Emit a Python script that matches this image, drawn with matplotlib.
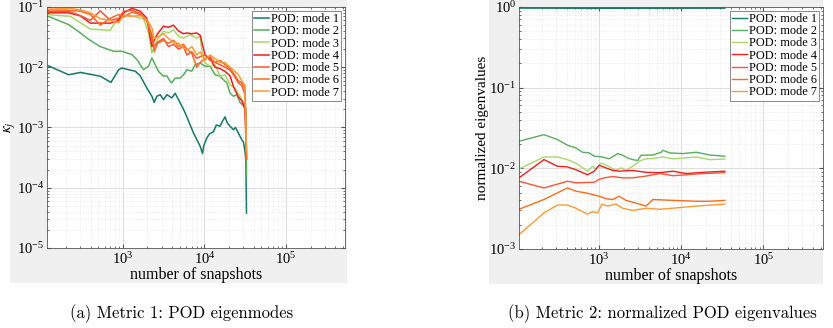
import matplotlib
matplotlib.use("Agg")
import matplotlib.pyplot as plt
from matplotlib.patches import Rectangle

plt.rcParams['font.family'] = 'Liberation Serif'
plt.rcParams['mathtext.fontset'] = 'stix'

labels = ["POD: mode %d" % i for i in range(1, 8)]
colors = ['#137a64', '#5aad5e', '#a8d86a', '#f01e1e', '#f4573a', '#f96b1e', '#fd9a35']

# Metric 1: kappa_j vs number of snapshots
m1_x = {
    1: [121, 216, 301, 527, 713, 885, 972, 1173, 1416, 1630, 1967, 2265, 2420, 2608, 2866, 3146, 3457,
        3981, 4372, 4805, 5534, 6080, 6680, 7340, 8060, 8850, 9460, 9800, 10690, 11500, 12890, 14000,
        15560, 16500, 17910, 19000, 20600, 22650, 24000, 26080, 28650, 30000, 31460, 32200, 32768],
    2: [121, 216, 301, 380, 527, 769, 972, 1289, 1484, 1790, 2062, 2265, 2489, 2734, 3146, 3457, 3797,
        3981, 4372, 5030, 5534, 6080, 6990, 7680, 8850, 10180, 11710, 13470, 15560, 17110, 18810, 20600,
        22650, 24880, 27350, 30060, 32370, 32768],
    3: [121, 226, 398, 700, 769, 885, 1019, 1351, 1790, 2062, 2265, 2420, 2660, 3146, 3620, 4165, 4805,
        5534, 6680, 8060, 8850, 9270, 10180, 11710, 13470, 15560, 17910, 20600, 23680, 27350, 31460, 32768],
}
m1_y = {
    1: [0.0106, 0.0075, 0.0082, 0.0071, 0.0056, 0.0091, 0.0097, 0.0091, 0.0086, 0.0072, 0.0045, 0.0033,
        0.0026, 0.0033, 0.0035, 0.0029, 0.0035, 0.0031, 0.0037, 0.0029, 0.0020, 0.0015, 0.0011, 0.00081,
        0.00063, 0.00049, 0.00037, 0.0005, 0.00067, 0.00078, 0.00085, 0.00110, 0.00105, 0.00125, 0.0015,
        0.00120, 0.00105, 0.00092, 0.00100, 0.00081, 0.00063, 0.00058, 0.00040, 0.00028, 3.8e-5],
    2: [0.070, 0.051, 0.037, 0.029, 0.022, 0.0184, 0.0184, 0.0162, 0.0134, 0.0091, 0.0104, 0.0143, 0.011,
        0.0085, 0.0071, 0.0072, 0.0058, 0.0055, 0.0066, 0.0066, 0.0075, 0.0091, 0.0086, 0.011, 0.0118,
        0.0104, 0.0104, 0.0075, 0.0071, 0.0062, 0.0055, 0.0037, 0.0033, 0.0035, 0.0026, 0.0023, 0.0020,
        0.00015],
    3: [0.0746, 0.070, 0.043, 0.041, 0.051, 0.063, 0.0746, 0.070, 0.063, 0.037, 0.0172, 0.0222, 0.0287,
        0.0395, 0.037, 0.042, 0.0326, 0.0306, 0.0347, 0.0306, 0.0326, 0.0196, 0.0118, 0.0104, 0.011,
        0.0071, 0.0075, 0.0051, 0.0045, 0.0033, 0.00225, 0.0003],
}
m1_xo = [121, 216, 301, 398, 527, 700, 885, 1019, 1290, 1630, 1967, 2265, 2420, 2660, 3146, 3620, 4165,
         4805, 5534, 6080, 6990, 8060, 8850, 10180, 11710, 13470, 15560, 17910, 20600, 22650, 26080,
         28650, 31460, 32768]
m1_y[4] = [0.080, 0.080, 0.071, 0.054, 0.054, 0.054, 0.060, 0.080, 0.095, 0.085, 0.065, 0.022, 0.028,
           0.036, 0.048, 0.046, 0.050, 0.040, 0.036, 0.037, 0.036, 0.037, 0.034, 0.016, 0.014, 0.010,
           0.0095, 0.0085, 0.0072, 0.0048, 0.0032, 0.0028, 0.0020, 0.0003]
m1_y[5] = [0.085, 0.085, 0.072, 0.060, 0.086, 0.060, 0.065, 0.085, 0.088, 0.078, 0.060, 0.030, 0.022,
           0.026, 0.030, 0.022, 0.024, 0.020, 0.022, 0.016, 0.018, 0.014, 0.015, 0.016, 0.013, 0.012,
           0.011, 0.010, 0.0090, 0.0075, 0.0055, 0.0050, 0.0035, 0.0004]
m1_y[6] = [0.090, 0.088, 0.085, 0.075, 0.050, 0.065, 0.075, 0.068, 0.082, 0.075, 0.058, 0.035, 0.018,
           0.025, 0.028, 0.025, 0.028, 0.022, 0.024, 0.020, 0.017, 0.010, 0.012, 0.014, 0.015, 0.012,
           0.013, 0.011, 0.0095, 0.008, 0.006, 0.0055, 0.0045, 0.0003]
m1_y[7] = [0.092, 0.095, 0.090, 0.080, 0.064, 0.060, 0.055, 0.072, 0.070, 0.072, 0.062, 0.045, 0.030,
           0.032, 0.036, 0.030, 0.026, 0.025, 0.021, 0.019, 0.022, 0.016, 0.018, 0.013, 0.016, 0.014,
           0.012, 0.012, 0.010, 0.009, 0.0075, 0.006, 0.005, 0.0004]
for k in (4, 5, 6, 7):
    m1_x[k] = m1_xo

# Metric 2: normalized eigenvalues
m2_x = {
    1: [105, 1000, 10000, 34000],
    2: [105, 212, 309, 410, 518, 625, 755, 868, 1048, 1325, 1456, 1677, 1930, 2220, 2557, 2945, 3237,
        4500, 5690, 5960, 7200, 10460, 15250, 22200, 34000],
    3: [105, 212, 309, 410, 518, 720, 830, 910, 1048, 1265, 1600, 1840, 2120, 2557, 3090, 3730, 4500,
        5960, 7910, 10460, 15250, 22200, 34000],
    4: [105, 212, 309, 410, 518, 720, 868, 1000, 1207, 1456, 1757, 2557, 3730, 5420, 7910, 11500,
        18420, 34000],
    5: [105, 212, 410, 518, 868, 1000, 1150, 1456, 1930, 2557, 3730, 5420, 7910, 11500, 18420, 34000],
    6: [105, 212, 410, 518, 720, 1000, 1207, 1456, 1757, 2120, 3090, 3730, 4500, 7910, 15250, 22200, 34000],
    7: [105, 212, 309, 410, 518, 720, 830, 953, 1080, 1265, 1600, 1930, 2557, 3730, 5420, 7910, 15250, 34000],
}
m2_y = {
    1: [0.965, 0.960, 0.962, 0.963],
    2: [0.0216, 0.0261, 0.0227, 0.0193, 0.0179, 0.0158, 0.0155, 0.0141, 0.0139, 0.0131, 0.0139, 0.0152,
        0.0145, 0.0134, 0.0128, 0.0125, 0.0145, 0.0146, 0.0158, 0.0167, 0.0155, 0.0152, 0.0158, 0.0146, 0.0141],
    3: [0.0098, 0.0138, 0.0138, 0.0128, 0.0116, 0.0092, 0.0106, 0.0098, 0.0116, 0.0107, 0.0094, 0.0101,
        0.0094, 0.0106, 0.0123, 0.0131, 0.0132, 0.0138, 0.0131, 0.0134, 0.0138, 0.0128, 0.0130],
    4: [0.0076, 0.0128, 0.0106, 0.0104, 0.0096, 0.0083, 0.0092, 0.0109, 0.0101, 0.0094, 0.0092, 0.0094,
        0.0089, 0.0088, 0.0092, 0.0086, 0.0089, 0.0092],
    5: [0.0069, 0.0057, 0.0069, 0.0066, 0.0067, 0.0073, 0.0076, 0.0079, 0.0076, 0.0076, 0.0080, 0.0086,
        0.0081, 0.0083, 0.0086, 0.0088],
    6: [0.0031, 0.0041, 0.0057, 0.0052, 0.0049, 0.0045, 0.0042, 0.0041, 0.0045, 0.0040, 0.0036, 0.0034,
        0.0041, 0.0040, 0.0039, 0.0039, 0.0040],
    7: [0.0015, 0.0028, 0.0035, 0.0035, 0.0032, 0.0027, 0.0029, 0.0028, 0.0036, 0.0034, 0.0036, 0.0032,
        0.0030, 0.0032, 0.0031, 0.0032, 0.0034, 0.0036],
}

fig = plt.figure(figsize=(8.33, 3.28), dpi=100)
fig.patches.append(Rectangle((0.012, 0.137), 0.404, 0.863, transform=fig.transFigure,
                             facecolor='#f0f0f0', edgecolor='none', zorder=-10))
fig.patches.append(Rectangle((0.587, 0.134), 0.401, 0.866, transform=fig.transFigure,
                             facecolor='#f0f0f0', edgecolor='none', zorder=-10))

ax1 = fig.add_axes([0.0564, 0.2439, 0.3578, 0.7348])
ax2 = fig.add_axes([0.623, 0.241, 0.365, 0.738])

for i in range(1, 8):
    ax1.plot(m1_x[i], m1_y[i], color=colors[i - 1], lw=1.1, label=labels[i - 1])
    ax2.plot(m2_x[i], m2_y[i], color=colors[i - 1], lw=1.0, label=labels[i - 1])

ax1.set_ylim(1e-5, 1e-1)
ax1.set_xlim(117, 5.3e5)
ax2.set_ylim(1e-3, 1e0)
ax2.set_xlim(105, 5.35e5)
ax1.set_ylabel(r'$\kappa_j$', fontsize=11, labelpad=0)
ax2.set_ylabel('normalized eigenvalues', fontsize=11, labelpad=0)

for ax in (ax1, ax2):
    ax.set_xscale('log')
    ax.set_yscale('log')
    ax.set_facecolor('white')
    ax.set_xlabel('number of snapshots', fontsize=11.5, labelpad=0)
    ax.grid(True, which='major', color='#d8d8d8', lw=0.6)
    ax.grid(True, which='minor', color='#e2e2e2', lw=0.5, linestyle=':')
    ax.tick_params(which='both', direction='in', top=True, right=True, labelsize=10.5, pad=2,
                   color='#555555')
    ax.tick_params(which='major', length=3)
    ax.tick_params(which='minor', length=1.5)
    for s in ax.spines.values():
        s.set_color('#555555')
        s.set_linewidth(0.6)
    leg = ax.legend(loc='upper right', fontsize=8.8, frameon=True, fancybox=False,
                    handlelength=1.2, handletextpad=0.15, borderpad=0.2, labelspacing=0.02,
                    borderaxespad=0.3)
    leg.get_frame().set_edgecolor('#555555')
    leg.get_frame().set_linewidth(0.6)

fig.text(0.218, 0.045, '(a) Metric 1: POD eigenmodes', ha='center', va='center',
         fontsize=12, family='cmr10')
fig.text(0.795, 0.045, '(b) Metric 2: normalized POD eigenvalues', ha='center', va='center',
         fontsize=12, family='cmr10')

fig.savefig('out.png', dpi=100)
